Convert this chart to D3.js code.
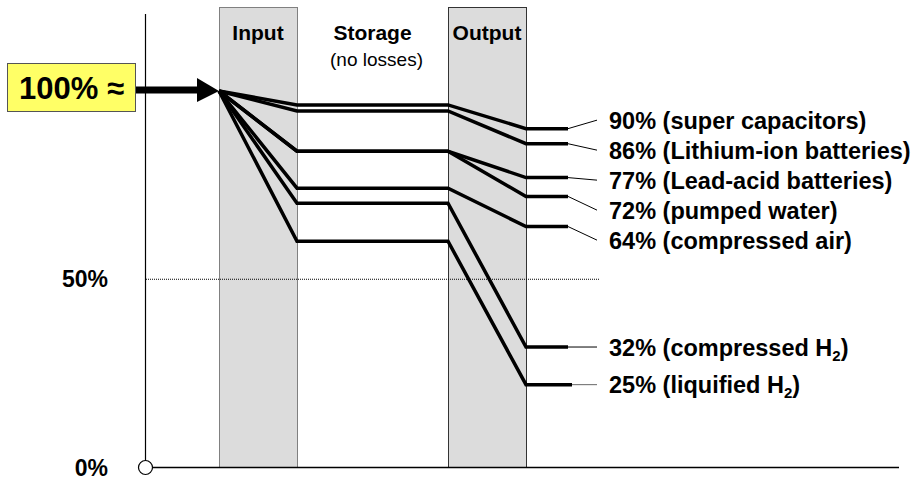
<!DOCTYPE html>
<html>
<head>
<meta charset="utf-8">
<script src="https://cdn.jsdelivr.net/npm/d3@7"></script>
<style>
  body { margin: 0; background: #fff; }
  svg text { font-family: "Liberation Sans", Arial, sans-serif; }
  .tech-label { font-size: 23.5px; font-weight: bold; }
  .stage { font-size: 21px; font-weight: bold; }
  .axis text { font-size: 23px; font-weight: bold; fill: #000; }
</style>
</head>
<body>
<svg id="chart" width="923" height="478"></svg>
<script>
// round trip efficiency of storage technologies
const techNames = ['super capacitors', 'Lithium-ion batteries', 'Lead-acid batteries', 'pumped water',
                   'compressed air', 'compressed H2', 'liquified H2'];
const roundTrip = [90, 86, 77, 72, 64, 32, 25];        // value in the label
const storedLevel = [96.3, 94.7, 84, 84, 74.2, 70.2, 60.1]; // after input conversion
const outputLevel = [90, 86, 77, 72, 64, 32, 22];     // drawn level after output conversion
const yTicks = [0, 50];
const stages = ['Input', 'Output'];

const svg = d3.select('#chart');

const y = d3.scaleLinear().domain([0, 100]).range([467.5, 91]);
// x positions of the process steps
const x = d3.scaleOrdinal()
  .domain(['inStart', 'inEnd', 'outStart', 'outEnd', 'stub', 'leader', 'label'])
  .range([219, 297, 448, 526, 568, 597, 609]);

// grey bands for input / output conversion
const bandX = {Input: [x('inStart'), x('inEnd')], Output: [x('outStart'), x('outEnd')]};
svg.selectAll('.band').data(stages).enter().append('rect')
  .attr('class', 'band')
  .attr('x', d => bandX[d][0] + 0.5).attr('y', 7.5)
  .attr('width', d => bandX[d][1] - bandX[d][0]).attr('height', y(0) - 7.5)
  .attr('fill', '#dcdcdc')
  .attr('stroke', d => d == 'Input' ? '#808080' : '#333')
  .attr('stroke-width', 1);

svg.selectAll('.stage').data(stages).enter().append('text')
  .attr('class', 'stage')
  .attr('text-anchor', 'middle')
  .attr('x', d => (bandX[d][0] + bandX[d][1]) / 2)
  .attr('y', 40)
  .text(d => d);
svg.append('text').attr('class', 'stage')
  .attr('text-anchor', 'middle')
  .attr('x', (x('inEnd') + x('outStart')) / 2).attr('y', 40)
  .text('Storage');
svg.append('text')
  .attr('text-anchor', 'middle')
  .attr('x', (x('inEnd') + x('outStart')) / 2 + 4).attr('y', 66)
  .style('font-size', '19px')
  .text('(no losses)');

// 50% dotted reference
svg.append('line')
  .attr('x1', 146).attr('x2', 600)
  .attr('y1', y(50)).attr('y2', y(50))
  .attr('stroke', '#000').attr('stroke-width', 1)
  .attr('stroke-dasharray', '1,1');

// left axis line, base line and origin circle
svg.append('line')
  .attr('x1', 145.5).attr('x2', 145.5).attr('y1', 14).attr('y2', y(0) - 7)
  .attr('stroke', '#000').attr('stroke-width', 1.2);
svg.append('line')
  .attr('x1', 152.5).attr('x2', 899).attr('y1', y(0)).attr('y2', y(0))
  .attr('stroke', '#000').attr('stroke-width', 1.6);
svg.append('circle')
  .attr('cx', 145.5).attr('cy', y(0)).attr('r', 7)
  .attr('fill', '#fff').attr('stroke', '#000').attr('stroke-width', 1.2);

const yAxis = svg.append('g').attr('class', 'axis')
  .attr('transform', 'translate(108,0)')
  .call(d3.axisLeft(y).tickValues(yTicks).tickSize(0).tickPadding(0).tickFormat(d => d + '%'));
yAxis.select('.domain').remove();
yAxis.selectAll('text').attr('dy', '0.33em');

// efficiency lines
const line = d3.line();
svg.selectAll('.flow').data(techNames).enter().append('path')
  .attr('class', 'flow')
  .attr('d', (d, i) => line([
    [x('inStart'), y(100)],
    [x('inEnd'), y(storedLevel[i])],
    [x('outStart'), y(storedLevel[i])],
    [x('outEnd'), y(outputLevel[i])],
    [x('stub') + (i == 6 ? 4 : 0), y(outputLevel[i])]
  ]))
  .attr('fill', 'none')
  .attr('stroke', '#000')
  .attr('stroke-width', 3.5)
  .attr('stroke-linejoin', 'miter');

// label positions: upper five stacked, lower two beside their line
const labelY = techNames.map((d, i) => i < 5 ? y(outputLevel[0]) - 8.5 + 30 * i : y(outputLevel[i]));

svg.selectAll('.leader').data(techNames).enter().append('line')
  .attr('class', 'leader')
  .attr('x1', (d, i) => x('stub') + (i == 6 ? 4 : 0)).attr('y1', (d, i) => y(outputLevel[i]))
  .attr('x2', x('leader')).attr('y2', (d, i) => labelY[i])
  .attr('stroke', (d, i) => i == 6 ? '#666' : '#000')
  .attr('stroke-width', 1);

const labels = svg.selectAll('.tech-label').data(techNames).enter().append('text')
  .attr('class', 'tech-label')
  .attr('x', x('label'))
  .attr('y', (d, i) => labelY[i] + 8.5);
labels.each(function(d, i) {
  const t = d3.select(this);
  if (d.endsWith('H2')) {
    t.append('tspan').text(roundTrip[i] + '% (' + d.slice(0, -1));
    t.append('tspan').attr('dy', 5).style('font-size', '15px').text('2');
    t.append('tspan').attr('dy', -5).text(')');
  } else {
    t.text(roundTrip[i] + '% (' + d + ')');
  }
});

// 100% input box and arrow
svg.append('rect')
  .attr('x', 7.5).attr('y', 63.5).attr('width', 128).attr('height', 48)
  .attr('fill', '#ffff66').attr('stroke', '#555').attr('stroke-width', 1);
svg.append('text')
  .attr('x', 19).attr('y', 99)
  .style('font-size', '31px').style('font-weight', 'bold')
  .text('100% \u2248');
svg.append('line')
  .attr('x1', 136).attr('x2', 199).attr('y1', y(100) - 1).attr('y2', y(100) - 1)
  .attr('stroke', '#000').attr('stroke-width', 7);
svg.append('path')
  .attr('d', line([[197, y(100) - 13], [x('inStart'), y(100)], [197, y(100) + 11]]) + 'Z')
  .attr('fill', '#000');
</script>
</body>
</html>
